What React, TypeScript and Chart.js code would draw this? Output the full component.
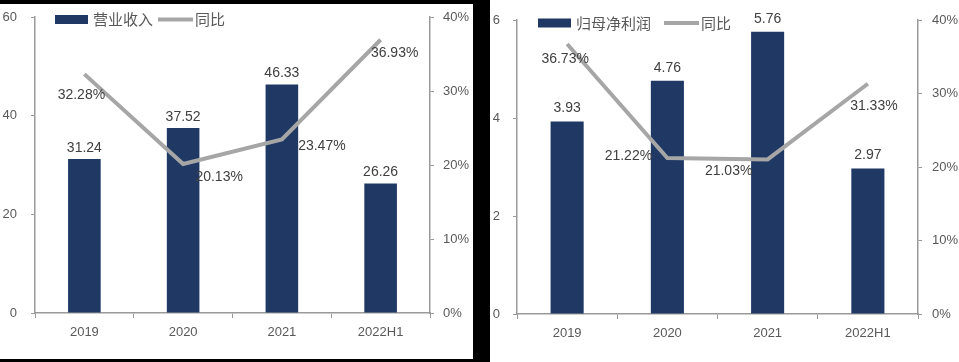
import React, { useEffect, useRef } from 'react';
import { Chart, registerables } from 'chart.js';

Chart.register(...registerables);

// ---- data ----
const categories = ['2019', '2020', '2021', '2022H1'];
const revenue = [31.24, 37.52, 46.33, 26.26];
const revenueYoY = [32.28, 20.13, 23.47, 36.93];
const profit = [3.93, 4.76, 5.76, 2.97];
const profitYoY = [36.73, 21.22, 21.03, 31.33];
const revenueTicks = { min: 0, max: 60, step: 20 };
const profitTicks = { min: 0, max: 6, step: 2 };
const yoyTicks = { min: 0, max: 40, step: 10 };

// ---- styles ----
const BAR_COLOR = '#1F3864';
const LINE_COLOR = '#A6A6A6';
const AXIS_COLOR = '#9A9A9A';
const TICK_TEXT = '#595959';
const LABEL_TEXT = '#404040';
const LATIN = '"Liberation Sans", Arial, sans-serif';
const CJK = '"Noto Sans CJK SC", "Noto Sans", sans-serif';

type PanelCfg = {
  width: number;
  height: number;
  barName: string;
  bars: number[];
  yoy: number[];
  leftScale: { min: number; max: number; step: number };
  leftWidth: number;
  rightWidth: number;
  xHeight: number;
  topPad: number;
  leftPad: number;
  rightPad: number;
  barGap: number;
  lineOffsets: [number, number][];
  legendX: number;
  legendY: number;
  legendGap: number;
};

function makeLabelPlugin(cfg: PanelCfg) {
  return {
    id: 'customLabels',
    afterDatasetsDraw(chart: any) {
      const ctx = chart.ctx as CanvasRenderingContext2D;
      ctx.save();
      ctx.font = `14px ${LATIN}`;
      ctx.fillStyle = LABEL_TEXT;
      ctx.textAlign = 'center';
      ctx.textBaseline = 'middle';
      const barMeta = chart.getDatasetMeta(0);
      barMeta.data.forEach((el: any, i: number) => {
        const v = chart.data.datasets[0].data[i] as number;
        ctx.fillText(v.toFixed(2), el.x, el.y - cfg.barGap);
      });
      const lineMeta = chart.getDatasetMeta(1);
      lineMeta.data.forEach((el: any, i: number) => {
        const v = chart.data.datasets[1].data[i] as number;
        const [dx, dy] = cfg.lineOffsets[i];
        ctx.fillText(v.toFixed(2) + '%', el.x + dx, el.y + dy);
      });

      // legend
      const y = cfg.legendY;
      let x = cfg.legendX;
      ctx.fillStyle = BAR_COLOR;
      ctx.fillRect(x, y - 4.5, 33, 9);
      x += 38;
      ctx.font = `15px ${CJK}`;
      ctx.fillStyle = TICK_TEXT;
      ctx.textAlign = 'left';
      ctx.fillText(cfg.barName, x, y);
      x += ctx.measureText(cfg.barName).width + cfg.legendGap;
      ctx.strokeStyle = LINE_COLOR;
      ctx.lineWidth = 4;
      ctx.beginPath();
      ctx.moveTo(x, y);
      ctx.lineTo(x + 35, y);
      ctx.stroke();
      x += 37;
      ctx.fillText('同比', x, y);
      ctx.restore();
    },
  };
}

function Panel({ cfg }: { cfg: PanelCfg }) {
  const ref = useRef<HTMLCanvasElement | null>(null);
  useEffect(() => {
    if (!ref.current) return;
    const fitY = (w: number) => (s: any) => {
      s.width = w;
      s.paddingTop = 0;
      s.paddingBottom = 0;
    };
    const chart = new Chart(ref.current, {
      type: 'bar',
      data: {
        labels: categories,
        datasets: [
          {
            type: 'bar',
            label: cfg.barName,
            data: cfg.bars,
            backgroundColor: BAR_COLOR,
            yAxisID: 'y',
            order: 2,
            categoryPercentage: 0.33,
            barPercentage: 1,
          } as any,
          {
            type: 'line',
            label: '同比',
            data: cfg.yoy,
            borderColor: LINE_COLOR,
            backgroundColor: LINE_COLOR,
            borderWidth: 4,
            pointRadius: 0,
            tension: 0,
            yAxisID: 'y1',
            order: 1,
          } as any,
        ],
      },
      options: {
        responsive: false,
        animation: false,
        devicePixelRatio: 1,
        layout: { padding: { top: cfg.topPad, left: 0, right: 0, bottom: 0 } },
        plugins: { legend: { display: false }, tooltip: { enabled: false } },
        scales: {
          x: {
            afterFit: (s: any) => {
              s.height = cfg.xHeight;
              s.paddingLeft = 0;
              s.paddingRight = 0;
            },
            grid: {
              display: true,
              drawOnChartArea: false,
              drawTicks: true,
              tickLength: 5,
              tickColor: AXIS_COLOR,
              offset: true,
            },
            border: { display: true, color: AXIS_COLOR, width: 1.5 },
            ticks: { color: TICK_TEXT, font: { family: LATIN, size: 13 }, padding: 7 },
          },
          y: {
            position: 'left',
            min: cfg.leftScale.min,
            max: cfg.leftScale.max,
            afterFit: fitY(cfg.leftWidth),
            grid: { drawOnChartArea: false, drawTicks: true, tickLength: 4, tickColor: AXIS_COLOR },
            border: { display: true, color: AXIS_COLOR, width: 1.5 },
            ticks: {
              stepSize: cfg.leftScale.step,
              color: TICK_TEXT,
              font: { family: LATIN, size: 13 },
              padding: cfg.leftPad,
            },
          },
          y1: {
            position: 'right',
            min: yoyTicks.min,
            max: yoyTicks.max,
            afterFit: fitY(cfg.rightWidth),
            grid: { drawOnChartArea: false, drawTicks: true, tickLength: 4, tickColor: AXIS_COLOR },
            border: { display: true, color: AXIS_COLOR, width: 1.5 },
            ticks: {
              stepSize: yoyTicks.step,
              color: TICK_TEXT,
              font: { family: LATIN, size: 13 },
              padding: cfg.rightPad,
              callback: (v: any) => `${v}%`,
            },
          },
        },
      } as any,
      plugins: [makeLabelPlugin(cfg)],
    });
    return () => chart.destroy();
  }, [cfg]);
  return <canvas ref={ref} width={cfg.width} height={cfg.height} style={{ display: 'block', width: cfg.width, height: cfg.height }} />;
}

const leftCfg: PanelCfg = {
  width: 473,
  height: 355,
  barName: '营业收入',
  bars: revenue,
  yoy: revenueYoY,
  leftScale: revenueTicks,
  leftWidth: 35,
  rightWidth: 43,
  xHeight: 46,
  topPad: 13,
  leftPad: 14,
  rightPad: 9,
  barGap: 11,
  lineOffsets: [[-3, 21], [36, 13], [40, 7], [14, 13]],
  legendX: 55,
  legendY: 15.5,
  legendGap: 5,
};

const rightCfg: PanelCfg = {
  width: 469,
  height: 362,
  barName: '归母净利润',
  bars: profit,
  yoy: profitYoY,
  leftScale: profitTicks,
  leftWidth: 27,
  rightWidth: 41,
  xHeight: 48,
  topPad: 20,
  leftPad: 13,
  rightPad: 10,
  barGap: 13,
  lineOffsets: [[-2, 15], [-39, -2], [-39, 12], [6, 22]],
  legendX: 48,
  legendY: 23,
  legendGap: 13,
};

export default function App() {
  return (
    <div style={{ position: 'fixed', left: 0, top: 0, width: 959, height: 362, background: '#000', overflow: 'hidden' }}>
      <div style={{ position: 'absolute', left: 0, top: 4, width: 473, height: 355, background: '#fff' }}>
        <Panel cfg={leftCfg} />
      </div>
      <div style={{ position: 'absolute', left: 490, top: 0, width: 469, height: 362, background: '#fff' }}>
        <Panel cfg={rightCfg} />
      </div>
    </div>
  );
}
